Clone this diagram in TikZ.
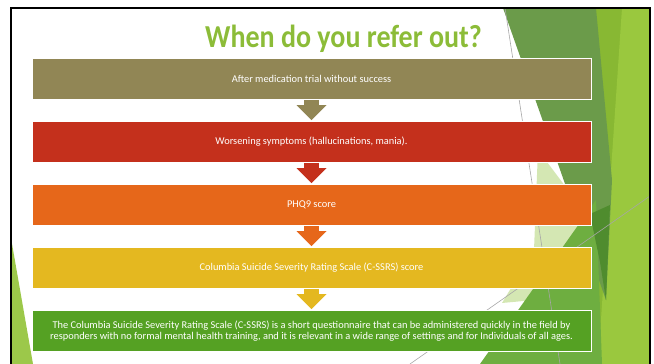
\documentclass[tikz,border=0pt]{standalone}
\usepackage{fontspec}
\setmainfont{Carlito}
\usetikzlibrary{arrows.meta}

\definecolor{stepolive}{HTML}{918655}
\definecolor{stepred}{HTML}{C4301C}
\definecolor{steporange}{HTML}{E6671A}
\definecolor{stepgold}{HTML}{E4B820}
\definecolor{stepgreen}{HTML}{55A123}
\definecolor{titlegreen}{HTML}{8CBC38}
\definecolor{facetlime}{HTML}{88B833}
\definecolor{facetbright}{HTML}{9AC83E}
\definecolor{facetdark}{HTML}{6B9B4A}
\definecolor{facetdeep}{HTML}{4F8C2E}
\definecolor{facetmid}{HTML}{6EAE40}
\definecolor{facetpale}{HTML}{D4E7B3}
\definecolor{facetleaf}{HTML}{9CC84A}

\tikzset{
  flowbox/.style={draw=white, line width=0.8pt, minimum width=559pt, minimum height=41pt, inner sep=2pt, align=center, text=white, font=\fontsize{10.4}{11.8}\selectfont},
  flowarr/.style={line width=15pt, -{Triangle[width=30pt, length=15pt, line width=0pt]}, shorten >=1pt},
  titlelab/.style={text=titlegreen, font=\fontsize{32}{32}\selectfont\bfseries, inner sep=0pt, anchor=base},
  facetline/.style={draw=black!35, line width=0.6pt}
}

\begin{document}
\begin{tikzpicture}[x=1pt,y=-1pt]
  \useasboundingbox (0,0) rectangle (654,364);

  % facets behind the slide content
  \begin{scope}
    \clip (11,8) rectangle (650,364);
    \fill[facetlime] (588,8) -- (650,8) -- (650,364) -- (548,364) -- cycle;
    \fill[facetbright] (622,8) -- (650,8) -- (650,364) -- (598,364) -- cycle;
    \fill[facetpale] (538,150) -- (592,222) -- (556,298) -- (502,303) -- (534,250) -- cycle;
    \fill[facetdark] (503,8) -- (596,8) -- (612,180) -- (606,300) -- cycle;
    \fill[facetmid] (596,200) -- (602,364) -- (480,364) -- cycle;
    \fill[facetdeep] (590,214) -- (610,205) -- (606,300) -- (600,262) -- cycle;
    \fill[facetleaf] (11,238) -- (11,364) -- (33,364) -- cycle;
    \draw[facetline] (505,8) -- (560,364);
    \draw[facetline] (410,364) -- (650,196);
  \end{scope}
  \draw[line width=1.6pt] (11,364) -- (11,8) -- (650,8) -- (650,364);

  \node[titlelab] (title) at (343.5,47.3) {\scalebox{0.875}[1]{When do you refer out?}};

  \node[flowbox, fill=stepolive] (b1) at (311.5,79) {After medication trial without success};
  \node[flowbox, fill=stepred] (b2) at (311.5,142) {Worsening symptoms (hallucinations, mania).};
  \node[flowbox, fill=steporange] (b3) at (311.5,205) {PHQ9 score};
  \node[flowbox, fill=stepgold] (b4) at (311.5,268) {Columbia Suicide Severity Rating Scale (C-SSRS) score};
  \node[flowbox, fill=stepgreen] (b5) at (311.5,331) {The Columbia Suicide Severity Rating Scale (C-SSRS) is a short questionnaire that can be administered quickly in the field by\\responders with no formal mental health training, and it is relevant in a wide range of settings and for Individuals of all ages.};

  \draw[flowarr, stepolive] (b1) -- (b2);
  \draw[flowarr, stepred] (b2) -- (b3);
  \draw[flowarr, steporange] (b3) -- (b4);
  \draw[flowarr, stepgold] (b4) -- (b5);
\end{tikzpicture}
\end{document}
